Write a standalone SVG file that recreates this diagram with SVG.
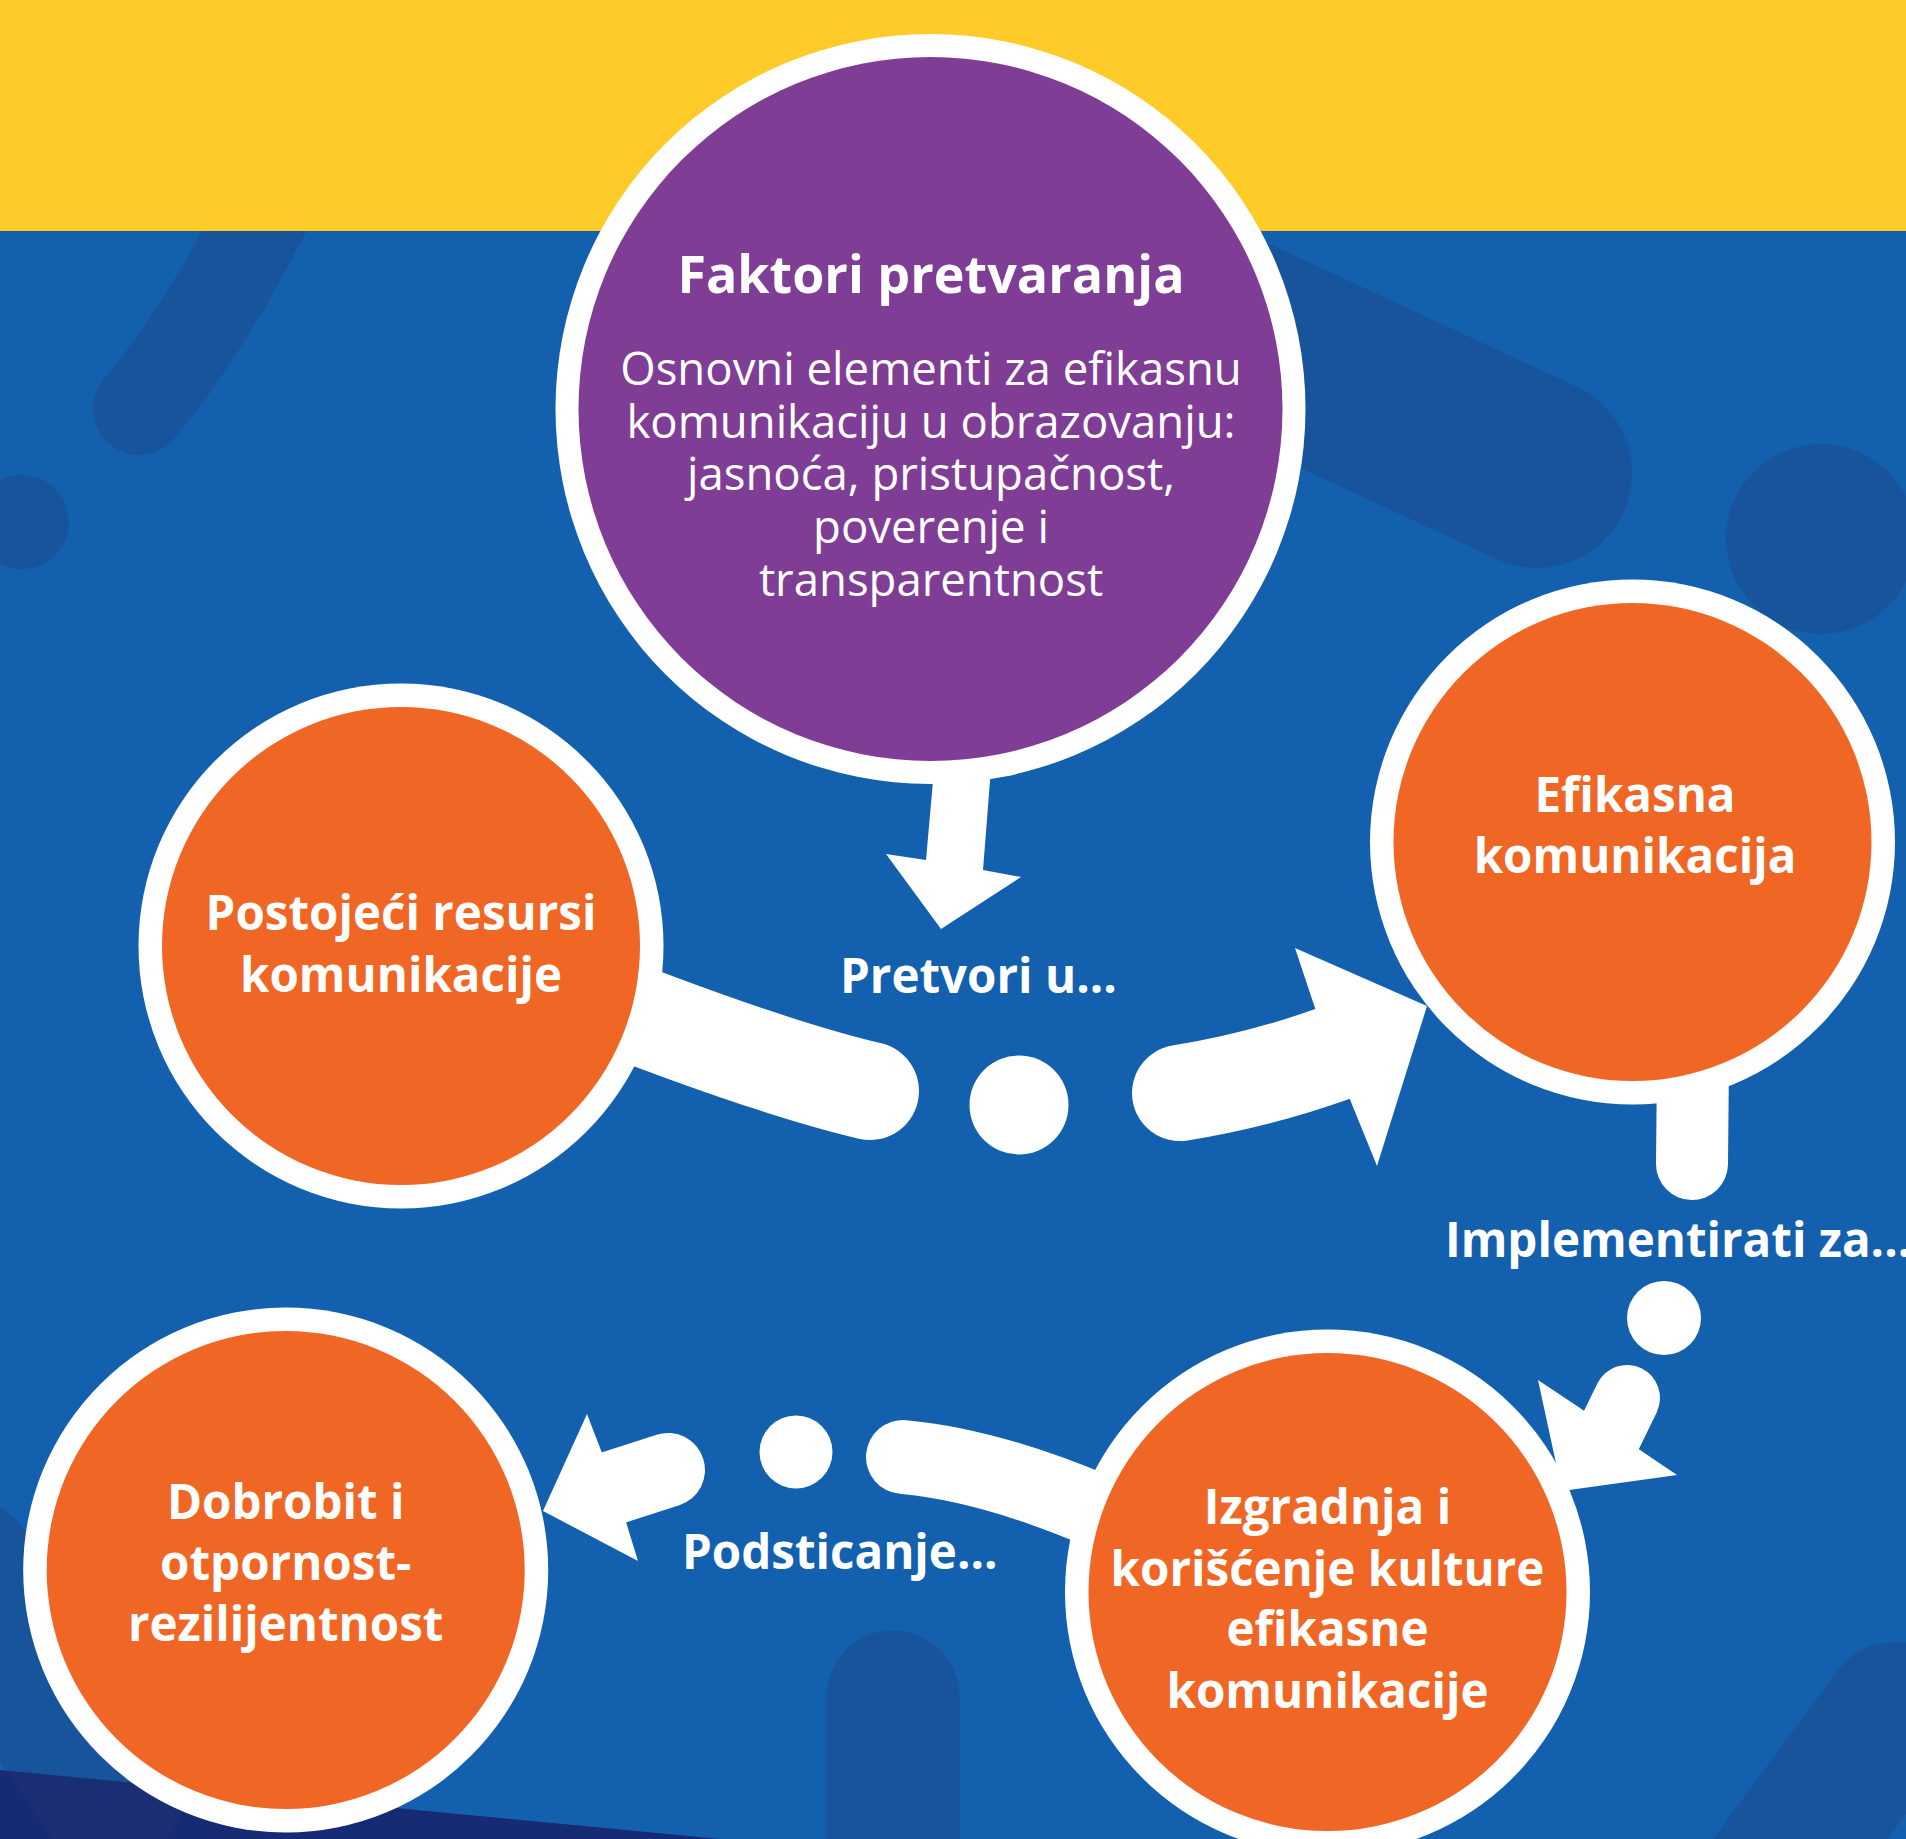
<svg xmlns="http://www.w3.org/2000/svg" width="1906" height="1839" viewBox="0 0 1906 1839">
<defs>
<style>
.blob{fill:none;stroke:#24386F;stroke-opacity:0.3;stroke-linecap:round}
.blobf{fill:#24386F;fill-opacity:0.3}
.wl{fill:none;stroke:#ffffff;stroke-linecap:round}
.wf{fill:#ffffff}
.ring{fill:#ffffff}
.orange{fill:#F06624}
.purple{fill:#7F3D96}
.lbl{font-family:"Open Sans","Noto Sans",sans-serif;font-weight:700;font-size:47.5px;fill:#ffffff;text-anchor:middle}
.lbls{font-family:"Open Sans","Noto Sans",sans-serif;font-weight:700;font-size:47.5px;fill:#ffffff;text-anchor:start}
.ttl{font-family:"Open Sans","Noto Sans",sans-serif;font-weight:700;font-size:52px;fill:#ffffff;text-anchor:middle}
.body{font-family:"Open Sans","Noto Sans",sans-serif;font-weight:400;font-size:45.5px;fill:#ffffff;text-anchor:middle}
</style>
</defs>
<g id="background">
<rect x="0" y="0" width="1906" height="1839" fill="#1360AE"/>
<polygon points="0,1770 720,1839 0,1839" fill="#172A74"/>
<path class="blob" d="M139 409 Q205 330 268 205" stroke-width="92"/>
<path class="blob" d="M1537 473 L1100 270" stroke-width="190"/>
<circle class="blobf" cx="1821" cy="539" r="95"/>
<circle class="blobf" cx="22" cy="522" r="47"/>
<path class="blob" d="M893 1697 L893 1910" stroke-width="133"/>
<path class="blob" d="M1894 1712 L1755 1900" stroke-width="140"/>
<path class="blob" d="M-40 1570 L110 1790" stroke-width="150"/>
<rect x="0" y="0" width="1906" height="231" fill="#FFCB28"/>
</g>
<g id="connectors">
<polygon class="wf" points="935,740 992,740 990,781 983,870 1021,877 941,929 886,854 926,860 933,781"/>
<path class="wl" d="M560 985 Q760 1065 870 1091" stroke-width="98"/>
<circle class="wf" cx="1019" cy="1105" r="49.5"/>
<path class="wl" d="M1180 1093 Q1260 1080 1335 1053" stroke-width="96"/>
<polygon class="wf" points="1314,1005 1295,948 1427,1006 1377,1166 1349,1097"/>
<path class="wl" d="M1693 1060 L1692 1164" stroke-width="72"/>
<circle class="wf" cx="1664" cy="1318" r="37"/>
<path class="wl" d="M1627 1398 L1608 1437" stroke-width="66"/>
<polygon class="wf" points="1580,1408 1538,1380 1562,1491 1677,1475 1640,1450"/>
<path class="wl" d="M903 1457 Q990 1465 1100 1512" stroke-width="74"/>
<circle class="wf" cx="796" cy="1452" r="36.5"/>
<path class="wl" d="M668 1470 L612 1488" stroke-width="74"/>
<polygon class="wf" points="602,1453 587,1414 543,1511 638,1561 626,1522"/>
<text class="lbls" x="840" y="993">Pretvori u...</text>
<text class="lbls" x="1445" y="1257">Implementirati za...</text>
<text class="lbls" x="682" y="1569">Podsticanje...</text>
</g>
<g id="node-faktori">
<circle class="ring" cx="930.5" cy="409" r="375"/>
<circle class="purple" cx="930.5" cy="409" r="352"/>
<text class="ttl" x="931" y="293">Faktori pretvaranja</text>
<text class="body" x="931" y="385">Osnovni elementi za efikasnu</text>
<text class="body" x="931" y="438">komunikaciju u obrazovanju:</text>
<text class="body" x="931" y="490">jasnoća, pristupačnost,</text>
<text class="body" x="931" y="543">poverenje i</text>
<text class="body" x="931" y="596">transparentnost</text>
</g>
<g id="node-postojeci">
<circle class="ring" cx="401" cy="946" r="262.5"/>
<circle class="orange" cx="401" cy="946" r="239"/>
<text class="lbl" x="401" y="930">Postojeći resursi</text>
<text class="lbl" x="401" y="992">komunikacije</text>
</g>
<g id="node-efikasna">
<circle class="ring" cx="1632.5" cy="842" r="262.5"/>
<circle class="orange" cx="1632.5" cy="842" r="239"/>
<text class="lbl" x="1635" y="812">Efikasna</text>
<text class="lbl" x="1635" y="873">komunikacija</text>
</g>
<g id="node-izgradnja">
<circle class="ring" cx="1327.5" cy="1592" r="262.5"/>
<circle class="orange" cx="1327.5" cy="1592" r="239"/>
<text class="lbl" x="1327.5" y="1524">Izgradnja i</text>
<text class="lbl" x="1327.5" y="1586">korišćenje kulture</text>
<text class="lbl" x="1327.5" y="1646">efikasne</text>
<text class="lbl" x="1327.5" y="1708">komunikacije</text>
</g>
<g id="node-dobrobit">
<circle class="ring" cx="285.7" cy="1570" r="262.5"/>
<circle class="orange" cx="285.7" cy="1570" r="239"/>
<text class="lbl" x="285.7" y="1519">Dobrobit i</text>
<text class="lbl" x="285.7" y="1580">otpornost-</text>
<text class="lbl" x="285.7" y="1641">rezilijentnost</text>
</g>
</svg>
